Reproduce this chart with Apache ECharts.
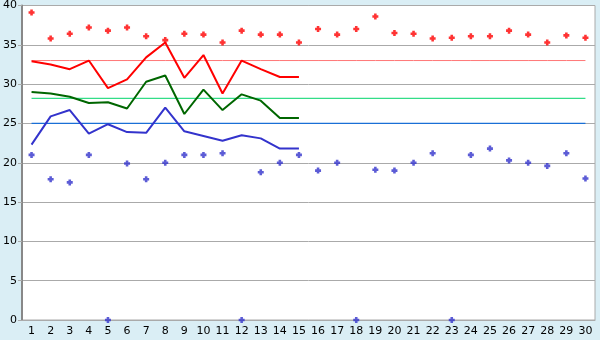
<!DOCTYPE html>
<html>
<head>
<meta charset="utf-8">
<script src="https://cdn.jsdelivr.net/npm/echarts@6/dist/echarts.min.js"></script>
<style>html,body{margin:0;padding:0;background:#daeef5;}#c{width:600px;height:340px;}</style>
</head>
<body>
<div id="c"></div>
<script>
var days = [];
for (var i = 1; i <= 30; i++) days.push(String(i));

var avgHigh = [32.9, 32.5, 31.9, 33.0, 29.5, 30.6, 33.4, 35.3, 30.8, 33.7, 28.8, 33.0, 31.9, 30.9, 30.9];
var avgMid  = [29.0, 28.8, 28.4, 27.6, 27.7, 26.9, 30.3, 31.1, 26.2, 29.3, 26.7, 28.7, 27.9, 25.7, 25.7];
var avgLow  = [22.3, 25.9, 26.7, 23.7, 24.9, 23.9, 23.8, 27.0, 24.0, 23.4, 22.8, 23.5, 23.1, 21.8, 21.8];

var maxPts = [39.1, 35.8, 36.4, 37.2, 36.8, 37.2, 36.1, 35.6, 36.4, 36.3, 35.3, 36.8, 36.3, 36.3, 35.3,
              37.0, 36.3, 37.0, 38.6, 36.5, 36.4, 35.8, 35.9, 36.1, 36.1, 36.8, 36.3, 35.3, 36.2, 35.9];
var minPts = [21.0, 17.9, 17.5, 21.0, 0, 19.9, 17.9, 20.0, 21.0, 21.0, 21.2, 0, 18.8, 20.0, 21.0,
              19.0, 20.0, 0, 19.1, 19.0, 20.0, 21.2, 0, 21.0, 21.8, 20.3, 20.0, 19.6, 21.2, 18.0];

var refHigh = 33.0, refMid = 28.2, refLow = 25.0;
var yTicks = [0, 5, 10, 15, 20, 25, 30, 35, 40];

function flat(v) { return days.map(function () { return v; }); }
var marker = 'path://M2,0H5V2H7V5H5V7H2V5H0V2H2Z';

var chart = echarts.init(document.getElementById('c'), null, {renderer: 'canvas'});
chart.setOption({
  backgroundColor: '#daeef5',
  animation: false,
  grid: {left: 20, right: 5, top: 5, bottom: 20, show: true, backgroundColor: '#ffffff', borderColor: '#aaaaaa', borderWidth: 1},
  xAxis: {
    type: 'category', data: days, boundaryGap: true,
    axisLine: {lineStyle: {color: '#aaaaaa'}},
    axisTick: {alignWithLabel: true, length: 5, lineStyle: {color: '#000000'}},
    axisLabel: {color: '#000', fontFamily: 'DejaVu Sans', fontSize: 11, margin: 6, interval: 0},
    splitLine: {show: false}
  },
  yAxis: {
    type: 'value', min: yTicks[0], max: yTicks[yTicks.length - 1], interval: 5,
    axisLine: {show: true, lineStyle: {color: '#888888', width: 2}},
    axisTick: {show: true, length: 4, lineStyle: {color: '#aaaaaa'}},
    axisLabel: {color: '#000', fontFamily: 'DejaVu Sans', fontSize: 11, margin: 5, verticalAlign: 'middle'},
    splitLine: {lineStyle: {color: '#aaaaaa', width: 1}}
  },
  series: [
    {type: 'line', data: flat(refHigh), symbol: 'none', lineStyle: {color: '#ff7777', width: 1}, z: 2},
    {type: 'line', data: flat(refMid), symbol: 'none', lineStyle: {color: '#33dd88', width: 1.2}, z: 2},
    {type: 'line', data: flat(refLow), symbol: 'none', lineStyle: {color: '#1a6fd6', width: 1.2}, z: 2},
    {type: 'line', data: avgHigh, symbol: 'none', lineStyle: {color: '#ff0000', width: 2}, z: 3},
    {type: 'line', data: avgMid, symbol: 'none', lineStyle: {color: '#006600', width: 2}, z: 3},
    {type: 'line', data: avgLow, symbol: 'none', lineStyle: {color: '#3333cc', width: 2}, z: 3},
    {type: 'scatter', data: maxPts, symbol: marker, symbolSize: 6, itemStyle: {color: '#ff0000'}, z: 4},
    {type: 'scatter', data: minPts, symbol: marker, symbolSize: 6, itemStyle: {color: '#3333cc'}, z: 4}
  ]
});
</script>
</body>
</html>
